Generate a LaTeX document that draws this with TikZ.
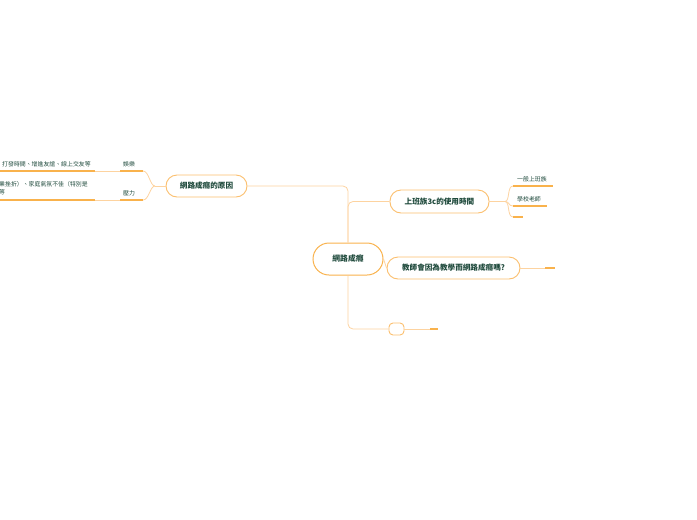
\documentclass[tikz,border=0pt]{standalone}
\usepackage{fontspec}
\setmainfont{Noto Sans CJK TC}
\newfontfamily\cjk{Noto Sans CJK TC}
\definecolor{lineor}{HTML}{FDD3A0}
\definecolor{boxor}{HTML}{FBBF6E}
\definecolor{ulor}{HTML}{F9B24C}
\definecolor{txt}{HTML}{1F4A3C}
\tikzset{
  topic/.style={draw=boxor, line width=0.9pt, fill=white, rounded corners=11pt, inner sep=0pt, font=\cjk\bfseries\fontsize{7.6}{9}\selectfont, text=txt},
  leaf/.style={font=\cjk\fontsize{5.9}{8.5}\selectfont, text=txt, inner sep=0pt},
  conn/.style={draw=lineor, line width=0.8pt, rounded corners=5pt},
  uline/.style={draw=ulor, line width=1.1pt},
}
\begin{document}
\begin{tikzpicture}[x=1pt,y=-1pt]
\useasboundingbox (0,0) rectangle (697,520);
% central
\node[topic, draw=ulor, line width=1pt, minimum width=70pt, minimum height=32pt, rounded corners=16pt, font=\cjk\bfseries\fontsize{7.8}{9}\selectfont] (c) at (348,259) {網路成癮};
\node[topic, minimum width=81pt, minimum height=22pt] (cause) at (206.5,186) {網路成癮的原因};
\node[topic, minimum width=99pt, minimum height=23pt] (office) at (439.5,201.5) {上班族3c的使用時間};
\node[topic, minimum width=133pt, minimum height=22pt] (teach) at (453.5,268) {教師會因為教學而網路成癮嗎?};
\node[topic, minimum width=15pt, minimum height=12pt, rounded corners=4pt] (empty) at (396.5,329) {};
% main connectors
\coordinate (j1) at (348,186);
\draw[conn] (c.north) -- (j1) -- (cause.east);
\draw[conn] (c.north) |- (office.west);
\draw[conn] (c.east) -- (teach.west);
\draw[conn] (c.south) |- (empty.west);
% empty node tail
\coordinate (e1) at (430,329);
\coordinate (e2) at (438,329);
\draw[conn] (empty.east) -- (e1);
\draw[uline] (e1) -- (e2);
% teacher tail
\coordinate (t1) at (545,268);
\coordinate (t2) at (555,268);
\draw[conn] (teach.east) -- (t1);
\draw[uline] (t1) -- (t2);
% office children
\coordinate (oj) at (505,201.5);
\coordinate (o1a) at (513,186); \coordinate (o1b) at (553,186);
\coordinate (o2a) at (513,206); \coordinate (o2b) at (547,206);
\coordinate (o3a) at (513,217); \coordinate (o3b) at (523,217);
\draw[conn] (office.east) -- (oj);
\draw[conn, rounded corners=0pt] (oj) .. controls (510,201.5) and (507,186) .. (o1a);
\draw[conn, rounded corners=0pt] (oj) .. controls (510,201.5) and (508,206) .. (o2a);
\draw[conn, rounded corners=0pt] (oj) .. controls (510,201.5) and (507,217) .. (o3a);
\draw[uline] (o1a) -- (o1b);
\draw[uline] (o2a) -- (o2b);
\draw[uline] (o3a) -- (o3b);
\node[leaf, anchor=south west] (n1) at (517,182) {一般上班族};
\node[leaf, anchor=south west] (n2) at (517,202) {學校老師};
% cause children
\coordinate (cj) at (155,186);
\coordinate (a1) at (143,171); \coordinate (a0) at (120,171);
\coordinate (b1) at (143,200); \coordinate (b0) at (120,200);
\draw[conn] (cause.west) -- (cj);
\draw[conn, rounded corners=0pt] (cj) .. controls (150,186) and (149,171) .. (a1);
\draw[conn, rounded corners=0pt] (cj) .. controls (150,186) and (149,200) .. (b1);
\draw[uline] (a1) -- (a0);
\draw[uline] (b1) -- (b0);
\node[leaf, anchor=south west] (yule) at (123,167) {娛樂};
\node[leaf, anchor=south west] (yali) at (123,196) {壓力};
\coordinate (a2) at (95,171); \coordinate (a3) at (0,171);
\coordinate (b2) at (95,200); \coordinate (b3) at (0,200);
\draw[conn] (a0) -- (a2);
\draw[conn] (b0) -- (b2);
\draw[uline] (a2) -- (a3);
\draw[uline] (b2) -- (b3);
\node[leaf, anchor=south west] (l1) at (2,167) {打發時間、增進友誼、線上交友等};
\node[leaf, anchor=north west, align=left] (l2) at (-1,181) {業挫折）、家庭氣氛不佳（特別是\\等};
\end{tikzpicture}
\end{document}
